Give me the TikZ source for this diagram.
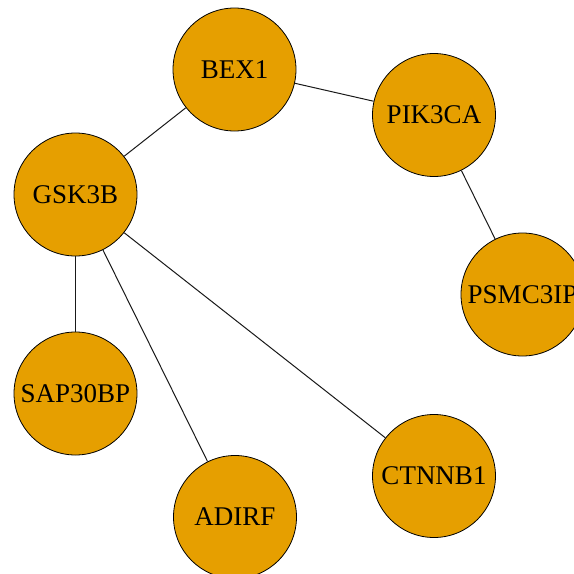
\documentclass[tikz,border=0pt]{standalone}
\usepackage{fontspec}
\setmainfont{Liberation Serif}
\definecolor{nodeorange}{HTML}{E69F00}
\begin{document}
\begin{tikzpicture}[x=1pt,y=-1pt,
  gene/.style={circle,draw=black,line width=0.8pt,fill=nodeorange,
    minimum size=123pt,inner sep=0pt,font=\fontsize{27}{30}\selectfont},
  link/.style={draw=black!90,line width=1pt}]
\useasboundingbox (0,0) rectangle (574,574);
\clip (0,0) rectangle (574,574);
\node[gene] (BEX1) at (234.5,69.5) {BEX1};
\node[gene] (PIK3CA) at (434,115) {PIK3CA};
\node[gene] (GSK3B) at (75.5,194.5) {GSK3B};
\node[gene] (PSMC3IP) at (522.5,294.5) {PSMC3IP};
\node[gene] (SAP30BP) at (75.5,393.5) {SAP30BP};
\node[gene] (ADIRF) at (235,517) {ADIRF};
\node[gene] (CTNNB1) at (434,476) {CTNNB1};
\path[link] (BEX1) -- (GSK3B);
\path[link] (BEX1) -- (PIK3CA);
\path[link] (PIK3CA) -- (PSMC3IP);
\path[link] (GSK3B) -- (SAP30BP);
\path[link] (GSK3B) -- (ADIRF);
\path[link] (GSK3B) -- (CTNNB1);
\end{tikzpicture}
\end{document}
